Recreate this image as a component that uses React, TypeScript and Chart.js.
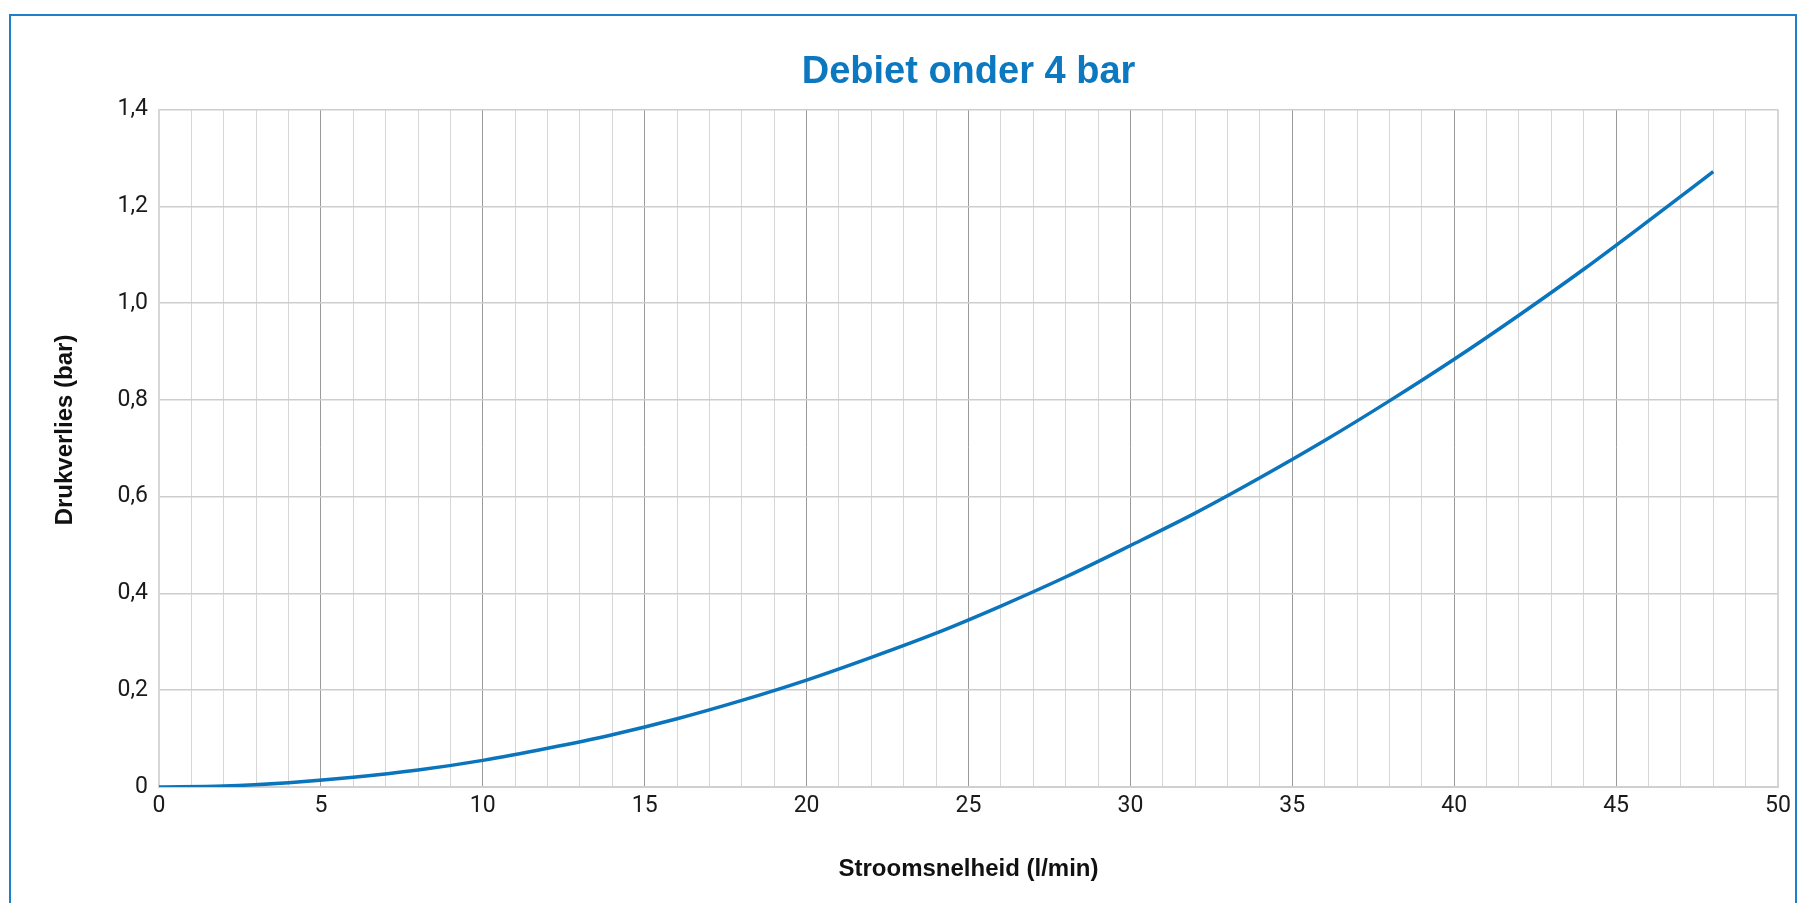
import React, { useEffect, useRef } from "react";
import { Chart, registerables } from "chart.js";

Chart.register(...registerables);

const chartTitle = "Debiet onder 4 bar";
const xAxisTitle = "Stroomsnelheid (l/min)";
const yAxisTitle = "Drukverlies (bar)";

// flow (l/min)
const flowValues = [0, 2, 4, 6, 8, 10, 12, 14, 16, 18, 20, 22, 24, 26, 28, 30, 32, 34, 36, 38, 40, 42, 44, 46, 48];
// pressure loss (bar)
const lossValues = [0, 0.002, 0.009, 0.02, 0.035, 0.055, 0.08, 0.108, 0.141, 0.179, 0.221, 0.268, 0.318, 0.374, 0.434, 0.499, 0.566, 0.639, 0.716, 0.798, 0.884, 0.975, 1.07, 1.17, 1.272];

const xMin = 0;
const xMax = 50;
const xLabelStep = 5;
const yMin = 0;
const yMax = 1.4;
const yStep = 0.2;

const BLUE = "#0b78c0";

const yTitlePlugin = {
  id: "yTitlePlugin",
  afterDraw(chart: any) {
    const ctx = chart.ctx;
    ctx.save();
    ctx.translate(65, 430);
    ctx.rotate(-Math.PI / 2);
    ctx.font = "bold 24px 'Liberation Sans', Arial, sans-serif";
    ctx.fillStyle = "#111";
    ctx.textAlign = "center";
    ctx.textBaseline = "middle";
    ctx.fillText(yAxisTitle, 0, 0);
    ctx.restore();
  },
};

export default function App() {
  const canvasRef = useRef<HTMLCanvasElement | null>(null);

  useEffect(() => {
    if (!canvasRef.current) return;
    const data = flowValues.map((x, i) => ({ x, y: lossValues[i] }));
    const chart = new Chart(canvasRef.current, {
      type: "line",
      data: {
        datasets: [
          {
            data,
            borderColor: "#0a74bd",
            borderWidth: 3.5,
            pointRadius: 0,
            fill: false,
            cubicInterpolationMode: "monotone",
          },
        ],
      },
      options: {
        responsive: false,
        animation: false,
        devicePixelRatio: 1,
        layout: { padding: { left: 9, right: 22, top: 0, bottom: 0 } },
        plugins: {
          legend: { display: false },
          tooltip: { enabled: false },
          title: {
            display: true,
            text: chartTitle,
            color: BLUE,
            fullSize: false,
            font: { family: "'Liberation Sans', Arial, sans-serif", size: 38, weight: "bold", lineHeight: 1.2 },
            padding: { top: 50, bottom: 14 },
          },
        },
        scales: {
          x: {
            type: "linear",
            min: xMin,
            max: xMax,
            afterFit: (scale: any) => {
              scale.height = 116;
            },
            ticks: {
              stepSize: 1,
              autoSkip: false,
              maxRotation: 0,
              padding: 5,
              color: "#1a1a1a",
              font: { family: "Roboto, 'DejaVu Sans', sans-serif", size: 23 },
              callback: (v: any) => (Number(v) % xLabelStep === 0 ? String(v) : ""),
            },
            grid: {
              drawTicks: false,
              color: (c: any) => {
                const v = c.tick ? c.tick.value : 0;
                return v % xLabelStep === 0 && v > xMin && v < xMax ? "#9a9a9a" : "#d6d6d6";
              },
              lineWidth: (c: any) => {
                const v = c.tick ? c.tick.value : 0;
                return v === xMin || v === xMax ? 2 : 1;
              },
            },
            border: { display: true, color: "#d0d0d0", width: 2 },
            title: {
              display: true,
              text: xAxisTitle,
              color: "#111",
              font: { family: "'Liberation Sans', Arial, sans-serif", size: 24, weight: "bold", lineHeight: 1.2 },
              padding: { top: 0, bottom: 19 },
            },
          },
          y: {
            type: "linear",
            min: yMin,
            max: yMax,
            afterFit: (scale: any) => {
              scale.width = 150;
            },
            ticks: {
              stepSize: yStep,
              padding: 11,
              color: "#1a1a1a",
              font: { family: "Roboto, 'DejaVu Sans', sans-serif", size: 23 },
              callback: (v: any) => {
                const n = Number(v);
                if (Math.abs(n) < 1e-9) return "0";
                return n.toFixed(1).replace(".", ",");
              },
            },
            grid: {
              drawTicks: false,
              color: "#cdcdcd",
              lineWidth: 1.6,
            },
            border: { display: true, color: "#d6d6d6", width: 2 },
            title: { display: false },
          },
        },
      },
      plugins: [yTitlePlugin],
    } as any);
    return () => chart.destroy();
  }, []);

  return (
    <div
      style={{
        position: "fixed",
        left: 0,
        top: 0,
        width: 1800,
        height: 903,
        overflow: "hidden",
        background: "#fff",
      }}
    >
      <div
        style={{
          position: "absolute",
          left: 9,
          top: 14,
          width: 1788,
          height: 1000,
          border: "2px solid #1f80c9",
          boxSizing: "border-box",
        }}
      />
      <canvas
        ref={canvasRef}
        width={1800}
        height={903}
        style={{ position: "absolute", left: 0, top: 0, width: 1800, height: 903 }}
      />
    </div>
  );
}
